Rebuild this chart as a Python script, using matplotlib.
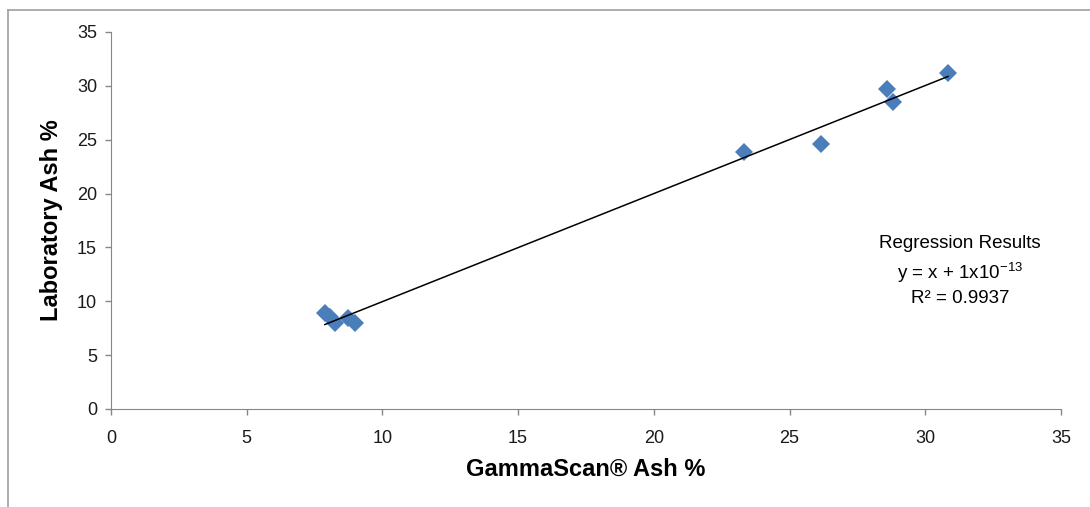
import numpy as np
import matplotlib.pyplot as plt
from matplotlib.lines import Line2D

# values
gamma_ash = [7.88, 8.07, 8.25, 8.74, 8.99, 23.33, 26.16, 28.59, 28.80, 30.84]
lab_ash = [8.88, 8.57, 7.95, 8.42, 7.95, 23.83, 24.58, 29.70, 28.53, 31.17]
ticks = [0, 5, 10, 15, 20, 25, 30, 35]

plt.rcParams['font.family'] = ['Liberation Sans', 'DejaVu Sans']

fig = plt.figure(figsize=(10.9, 5.07), dpi=100)
ax = fig.add_axes([0.1018, 0.1933, 0.8716, 0.7436])

# chart frame (top and left edges only visible)
W, H = 1090, 507
fig.add_artist(Line2D([8 / W, 8 / W], [0, 1 - 10 / H], transform=fig.transFigure,
                      color='#a0a0a0', lw=1.2))
fig.add_artist(Line2D([8 / W, 1], [1 - 10 / H, 1 - 10 / H], transform=fig.transFigure,
                      color='#a0a0a0', lw=1.2))

x = np.array(gamma_ash)
y = np.array(lab_ash)
ax.plot(x, y, 'D', color='#4a7ebb', markersize=9.5, markeredgewidth=0, zorder=3)

# linear trend line across the data range
k, b = np.polyfit(x, y, 1)
xl = np.array([x.min(), x.max()])
ax.plot(xl, k * xl + b, color='black', lw=1.1, zorder=4)

ax.set_xlim(0, 35)
ax.set_ylim(0, 35)
ax.set_xticks(ticks)
ax.set_yticks(ticks)
ax.tick_params(labelsize=13, colors='#868686', labelcolor='#1a1a1a', length=4, width=1)
ax.tick_params(axis='x', pad=11)
ax.tick_params(axis='y', pad=6)
for s in ['top', 'right']:
    ax.spines[s].set_visible(False)
for s in ['left', 'bottom']:
    ax.spines[s].set_color('#868686')

ax.set_xlabel('GammaScan\u00ae Ash %', fontsize=17, fontweight='bold', labelpad=8)
ax.set_ylabel('Laboratory Ash %', fontsize=17, fontweight='bold', labelpad=10)

fig.text(0.881, 0.465, 'Regression Results\ny = x + 1x10$^{\\mathregular{-13}}$\nR\u00b2 = 0.9937',
         ha='center', va='center', fontsize=13.5, linespacing=1.4)

fig.savefig('out.png', dpi=100)
